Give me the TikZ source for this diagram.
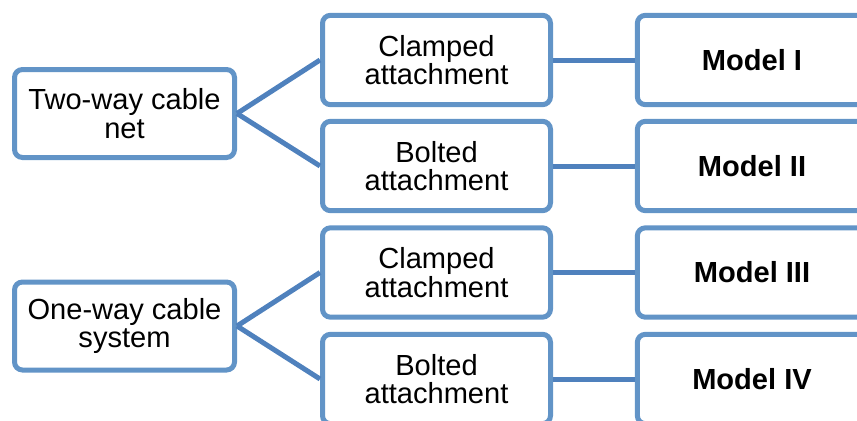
\documentclass[tikz,border=0pt]{standalone}
\usepackage{fontspec}
\setmainfont{Liberation Sans}
\definecolor{boxline}{RGB}{98,148,199}
\definecolor{conline}{RGB}{79,129,189}
\begin{document}
\begin{tikzpicture}[x=0.75pt,y=-0.75pt,
  box/.style={draw=boxline, line width=3.75pt, rounded corners=6pt, fill=white,
    align=center, inner sep=0pt, minimum width=171pt, minimum height=67pt,
    font=\fontsize{21.8}{21.5}\selectfont},
  leftbox/.style={box, minimum width=165pt, minimum height=66pt},
  modelbox/.style={box, minimum width=172pt, font=\fontsize{21.8}{21.5}\selectfont\bfseries},
  con/.style={draw=conline, line width=3.75pt}]
\clip (0,0) rectangle (857,421);
\useasboundingbox (0,0) rectangle (857,421);
% group 1
\node[leftbox] (L1) at (124.5,113.5) {Two-way cable\\net};
\node[box] (C1) at (436.5,60) {Clamped\\attachment};
\node[box] (B1) at (436.5,166) {Bolted\\attachment};
\node[modelbox] (M1) at (752,60) {Model I};
\node[modelbox] (M2) at (752,166) {Model II};
% group 2
\node[leftbox] (L2) at (124.5,326) {One-way cable\\system};
\node[box] (C2) at (436.5,272.5) {Clamped\\attachment};
\node[box] (B2) at (436.5,379) {Bolted\\attachment};
\node[modelbox] (M3) at (752,272.5) {Model III};
\node[modelbox] (M4) at (752,379) {Model IV};
% connectors
\draw[con] (L1.east) -- (C1.west);
\draw[con] (L1.east) -- (B1.west);
\draw[con] (C1.east) -- (M1.west);
\draw[con] (B1.east) -- (M2.west);
\draw[con] (L2.east) -- (C2.west);
\draw[con] (L2.east) -- (B2.west);
\draw[con] (C2.east) -- (M3.west);
\draw[con] (B2.east) -- (M4.west);
\end{tikzpicture}
\end{document}
